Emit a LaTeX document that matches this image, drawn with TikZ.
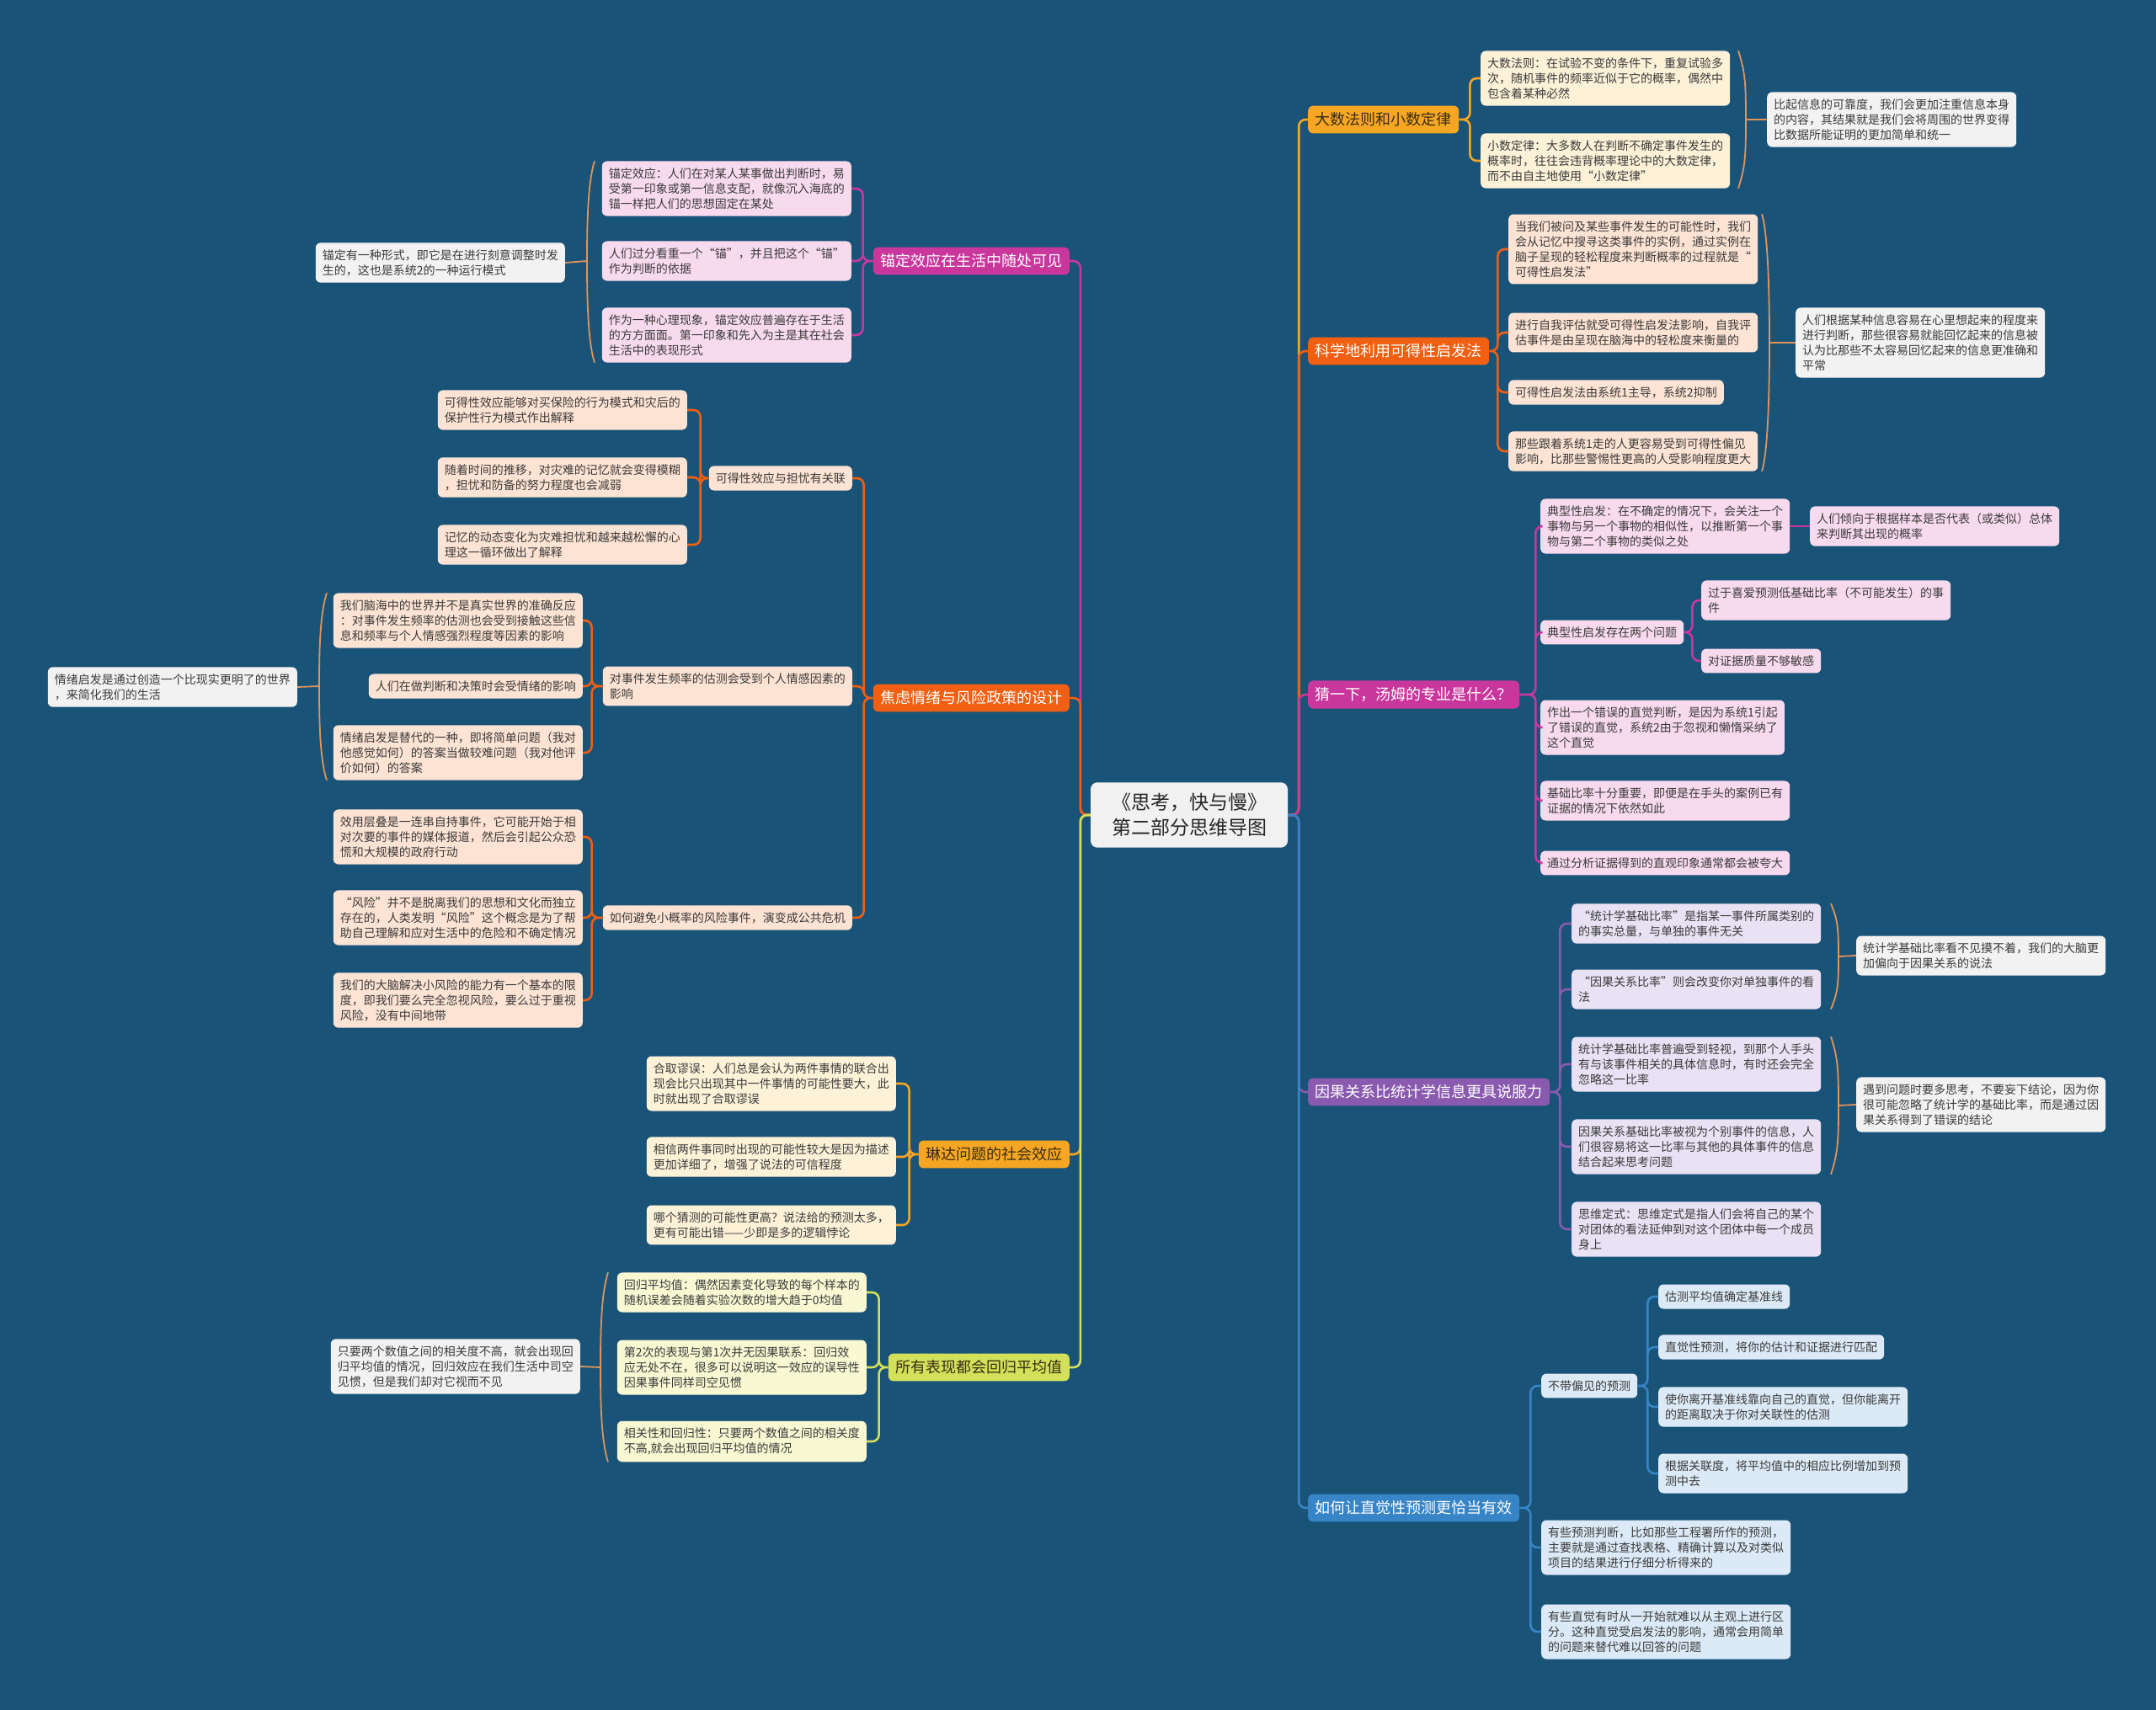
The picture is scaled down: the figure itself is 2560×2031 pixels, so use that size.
\documentclass[tikz,border=0pt]{standalone}
\usepackage{fontspec}
\setmainfont{Noto Sans CJK SC}
\usetikzlibrary{calc}
\definecolor{bgblue}{HTML}{1A5378}
\definecolor{rootgray}{HTML}{F1F1F1}
\definecolor{memogray}{HTML}{F2F2F2}
\definecolor{leaftext}{HTML}{3A3A3A}
\definecolor{darktxt}{HTML}{3A2E10}
\definecolor{cmag}{HTML}{C9379D}
\definecolor{corg}{HTML}{F05F12}
\definecolor{cgold}{HTML}{F6A623}
\definecolor{clime}{HTML}{D3E05A}
\definecolor{cpur}{HTML}{8A5AAF}
\definecolor{cblue}{HTML}{3784C7}
\definecolor{fpink}{HTML}{F8DAEE}
\definecolor{fpeach}{HTML}{FDE3D3}
\definecolor{fcream}{HTML}{FDF1D8}
\definecolor{fyell}{HTML}{F8F8D3}
\definecolor{flav}{HTML}{E8E2F4}
\definecolor{fsky}{HTML}{DCEAF7}
\definecolor{curlcol}{HTML}{E0945C}

\begin{document}
\begin{tikzpicture}[x=1pt, y=-1pt,
  rootbox/.style={fill=rootgray, rounded corners=8pt, align=center, inner xsep=25pt, inner ysep=13pt, font=\fontsize{23}{30}\selectfont, text=black!85},
  topic/.style={rounded corners=6pt, inner xsep=8.5pt, inner ysep=8pt, font=\fontsize{18}{22}\selectfont, text=white},
  leafbox/.style={rounded corners=6pt, align=left, inner xsep=8pt, inner ysep=8pt, font=\fontsize{14}{18}\selectfont, text=leaftext},
  memobox/.style={leafbox, fill=memogray},
  wire/.style={line width=2.6pt, rounded corners=8pt},
  curl/.style={draw=curlcol, line width=1.8pt}]
\fill[bgblue] (0,0) rectangle (2560,2031);
\useasboundingbox (0,0) rectangle (2560,2031);

\node[rootbox] (root) at (1412,968) {《思考，快与慢》\\第二部分思维导图};

\node[topic, fill=cmag, anchor=east] (b1) at (1270,310) {锚定效应在生活中随处可见};
\node[topic, fill=corg, anchor=east] (b2) at (1270,829) {焦虑情绪与风险政策的设计};
\node[topic, fill=cgold, text=darktxt, anchor=east] (b3) at (1270,1371) {琳达问题的社会效应};
\node[topic, fill=clime, text=darktxt, anchor=east] (b4) at (1270,1624) {所有表现都会回归平均值};
\node[topic, fill=cgold, text=darktxt, anchor=west] (b5) at (1553,142) {大数法则和小数定律};
\node[topic, fill=corg, anchor=west] (b6) at (1553,417) {科学地利用可得性启发法};
\node[topic, fill=cmag, anchor=west] (b7) at (1553,825) {猜一下，汤姆的专业是什么？};
\node[topic, fill=cpur, anchor=west] (b8) at (1553,1297) {因果关系比统计学信息更具说服力};
\node[topic, fill=cblue, anchor=west] (b9) at (1553,1791) {如何让直觉性预测更恰当有效};

\draw[wire, cmag] (root.west) -- ++(-12,0) |- (b1.east);
\draw[wire, corg] (root.west) -- ++(-12,0) |- (b2.east);
\draw[wire, cgold] (root.west) -- ++(-12,0) |- (b3.east);
\draw[wire, clime] (root.west) -- ++(-12,0) |- (b4.east);
\draw[wire, cgold] (root.east) -- ++(13,0) |- (b5.west);
\draw[wire, corg] (root.east) -- ++(13,0) |- (b6.west);
\draw[wire, cmag] (root.east) -- ++(13,0) |- (b7.west);
\draw[wire, cpur] (root.east) -- ++(13,0) |- (b8.west);
\draw[wire, cblue] (root.east) -- ++(13,0) |- (b9.west);

\node[leafbox, fill=fpink, anchor=east] (b1a) at (1011,224) {锚定效应：人们在对某人某事做出判断时，易\\受第一印象或第一信息支配，就像沉入海底的\\锚一样把人们的思想固定在某处};
\node[leafbox, fill=fpink, anchor=east] (b1b) at (1011,310) {人们过分看重一个“锚”，并且把这个“锚”\\作为判断的依据};
\node[leafbox, fill=fpink, anchor=east] (b1c) at (1011,398) {作为一种心理现象，锚定效应普遍存在于生活\\的方方面面。第一印象和先入为主是其在社会\\生活中的表现形式};
\node[memobox, anchor=east] (s1) at (671,312) {锚定有一种形式，即它是在进行刻意调整时发\\生的，这也是系统2的一种运行模式};
\coordinate (k1) at (697,310);
\draw[wire, cmag] (b1.west) -- ++(-12,0) |- (b1a.east) (b1.west) -- ++(-12,0) |- (b1b.east) (b1.west) -- ++(-12,0) |- (b1c.east);
\draw[curl] ($(k1 |- b1a.north)+(9,0)$) .. controls +(-8,25) and +(0,-45) .. (k1) .. controls +(0,45) and +(-8,-25) .. ($(k1 |- b1c.south)+(9,0)$);
\draw[curl] (k1) -- (s1.east);

\node[leafbox, fill=fpeach, anchor=east] (b2a) at (1012,568) {可得性效应与担忧有关联};
\node[leafbox, fill=fpeach, anchor=east] (b2b) at (1012,815) {对事件发生频率的估测会受到个人情感因素的\\影响};
\node[leafbox, fill=fpeach, anchor=east] (b2c) at (1012,1090) {如何避免小概率的风险事件，演变成公共危机};
\draw[wire, corg] (b2.west) -- ++(-11,0) |- (b2a.east) (b2.west) -- ++(-11,0) |- (b2b.east) (b2.west) -- ++(-11,0) |- (b2c.east);

\node[leafbox, fill=fpeach, anchor=east] (b2a1) at (816,487) {可得性效应能够对买保险的行为模式和灾后的\\保护性行为模式作出解释};
\node[leafbox, fill=fpeach, anchor=east] (b2a2) at (816,567) {随着时间的推移，对灾难的记忆就会变得模糊\\，担忧和防备的努力程度也会减弱};
\node[leafbox, fill=fpeach, anchor=east] (b2a3) at (816,647) {记忆的动态变化为灾难担忧和越来越松懈的心\\理这一循环做出了解释};
\draw[wire, corg] (b2a.west) -- ++(-10,0) |- (b2a1.east) (b2a.west) -- ++(-10,0) |- (b2a2.east) (b2a.west) -- ++(-10,0) |- (b2a3.east);

\node[leafbox, fill=fpeach, anchor=east] (b2b1) at (692,737) {我们脑海中的世界并不是真实世界的准确反应\\：对事件发生频率的估测也会受到接触这些信\\息和频率与个人情感强烈程度等因素的影响};
\node[leafbox, fill=fpeach, anchor=east] (b2b2) at (692,815) {人们在做判断和决策时会受情绪的影响};
\node[leafbox, fill=fpeach, anchor=east] (b2b3) at (692,894) {情绪启发是替代的一种，即将简单问题（我对\\他感觉如何）的答案当做较难问题（我对他评\\价如何）的答案};
\draw[wire, corg] (b2b.west) -- ++(-13,0) |- (b2b1.east) (b2b.west) -- ++(-13,0) |- (b2b2.east) (b2b.west) -- ++(-13,0) |- (b2b3.east);
\node[memobox, anchor=east] (s2) at (353,816) {情绪启发是通过创造一个比现实更明了的世界\\，来简化我们的生活};
\coordinate (k2) at (379,815);
\draw[curl] ($(k2 |- b2b1.north)+(9,0)$) .. controls +(-8,25) and +(0,-45) .. (k2) .. controls +(0,45) and +(-8,-25) .. ($(k2 |- b2b3.south)+(9,0)$);
\draw[curl] (k2) -- (s2.east);

\node[leafbox, fill=fpeach, anchor=east] (b2c1) at (692,994) {效用层叠是一连串自持事件，它可能开始于相\\对次要的事件的媒体报道，然后会引起公众恐\\慌和大规模的政府行动};
\node[leafbox, fill=fpeach, anchor=east] (b2c2) at (692,1090) {“风险”并不是脱离我们的思想和文化而独立\\存在的，人类发明“风险”这个概念是为了帮\\助自己理解和应对生活中的危险和不确定情况};
\node[leafbox, fill=fpeach, anchor=east] (b2c3) at (692,1188) {我们的大脑解决小风险的能力有一个基本的限\\度，即我们要么完全忽视风险，要么过于重视\\风险，没有中间地带};
\draw[wire, corg] (b2c.west) -- ++(-13,0) |- (b2c1.east) (b2c.west) -- ++(-13,0) |- (b2c2.east) (b2c.west) -- ++(-13,0) |- (b2c3.east);

\node[leafbox, fill=fcream, anchor=east] (b3a) at (1064,1287) {合取谬误：人们总是会认为两件事情的联合出\\现会比只出现其中一件事情的可能性要大，此\\时就出现了合取谬误};
\node[leafbox, fill=fcream, anchor=east] (b3b) at (1064,1374) {相信两件事同时出现的可能性较大是因为描述\\更加详细了，增强了说法的可信程度};
\node[leafbox, fill=fcream, anchor=east] (b3c) at (1064,1455) {哪个猜测的可能性更高？说法给的预测太多，\\更有可能出错——少即是多的逻辑悖论};
\draw[wire, cgold] (b3.west) -- ++(-11,0) |- (b3a.east) (b3.west) -- ++(-11,0) |- (b3b.east) (b3.west) -- ++(-11,0) |- (b3c.east);

\node[leafbox, fill=fyell, anchor=east] (b4a) at (1029,1535) {回归平均值：偶然因素变化导致的每个样本的\\随机误差会随着实验次数的增大趋于0均值};
\node[leafbox, fill=fyell, anchor=east] (b4b) at (1029,1624) {第2次的表现与第1次并无因果联系：回归效\\应无处不在，很多可以说明这一效应的误导性\\因果事件同样司空见惯};
\node[leafbox, fill=fyell, anchor=east] (b4c) at (1029,1712) {相关性和回归性：只要两个数值之间的相关度\\不高,就会出现回归平均值的情况};
\draw[wire, clime] (b4.west) -- ++(-11,0) |- (b4a.east) (b4.west) -- ++(-11,0) |- (b4b.east) (b4.west) -- ++(-11,0) |- (b4c.east);
\node[memobox, anchor=east] (s4) at (689,1623) {只要两个数值之间的相关度不高，就会出现回\\归平均值的情况，回归效应在我们生活中司空\\见惯，但是我们却对它视而不见};
\coordinate (k4) at (713,1624);
\draw[curl] ($(k4 |- b4a.north)+(9,0)$) .. controls +(-8,25) and +(0,-45) .. (k4) .. controls +(0,45) and +(-8,-25) .. ($(k4 |- b4c.south)+(9,0)$);
\draw[curl] (k4) -- (s4.east);

\node[leafbox, fill=fcream, anchor=west] (b5a) at (1758,93) {大数法则：在试验不变的条件下，重复试验多\\次，随机事件的频率近似于它的概率，偶然中\\包含着某种必然};
\node[leafbox, fill=fcream, anchor=west] (b5b) at (1758,191) {小数定律：大多数人在判断不确定事件发生的\\概率时，往往会违背概率理论中的大数定律，\\而不由自主地使用“小数定律”};
\draw[wire, cgold] (b5.east) -- ++(13,0) |- (b5a.west) (b5.east) -- ++(13,0) |- (b5b.west);
\node[memobox, anchor=west] (s5) at (2098,142) {比起信息的可靠度，我们会更加注重信息本身\\的内容，其结果就是我们会将周围的世界变得\\比数据所能证明的更加简单和统一};
\coordinate (k5) at (2073,142);
\draw[curl] ($(k5 |- b5a.north)+(-9,0)$) .. controls +(8,25) and +(0,-45) .. (k5) .. controls +(0,45) and +(8,-25) .. ($(k5 |- b5b.south)+(-9,0)$);
\draw[curl] (k5) -- (s5.west);

\node[leafbox, fill=fpeach, anchor=west] (b6a) at (1791,296) {当我们被问及某些事件发生的可能性时，我们\\会从记忆中搜寻这类事件的实例，通过实例在\\脑子呈现的轻松程度来判断概率的过程就是“\\可得性启发法”};
\node[leafbox, fill=fpeach, anchor=west] (b6b) at (1791,395) {进行自我评估就受可得性启发法影响，自我评\\估事件是由呈现在脑海中的轻松度来衡量的};
\node[leafbox, fill=fpeach, anchor=west] (b6c) at (1791,466) {可得性启发法由系统1主导，系统2抑制};
\node[leafbox, fill=fpeach, anchor=west] (b6d) at (1791,536) {那些跟着系统1走的人更容易受到可得性偏见\\影响，比那些警惕性更高的人受影响程度更大};
\draw[wire, corg] (b6.east) -- ++(10,0) |- (b6a.west) (b6.east) -- ++(10,0) |- (b6b.west) (b6.east) -- ++(10,0) |- (b6c.west) (b6.east) -- ++(10,0) |- (b6d.west);
\node[memobox, anchor=west] (s6) at (2132,407) {人们根据某种信息容易在心里想起来的程度来\\进行判断，那些很容易就能回忆起来的信息被\\认为比那些不太容易回忆起来的信息更准确和\\平常};
\coordinate (k6) at (2101,407);
\draw[curl] ($(k6 |- b6a.north)+(-9,0)$) .. controls +(8,25) and +(0,-45) .. (k6) .. controls +(0,45) and +(8,-25) .. ($(k6 |- b6d.south)+(-9,0)$);
\draw[curl] (k6) -- (s6.west);

\node[leafbox, fill=fpink, anchor=west] (b7a) at (1829,625) {典型性启发：在不确定的情况下，会关注一个\\事物与另一个事物的相似性，以推断第一个事\\物与第二个事物的类似之处};
\node[leafbox, fill=fpink, anchor=west] (b7b) at (1829,751) {典型性启发存在两个问题};
\node[leafbox, fill=fpink, anchor=west] (b7c) at (1829,864) {作出一个错误的直觉判断，是因为系统1引起\\了错误的直觉，系统2由于忽视和懒惰采纳了\\这个直觉};
\node[leafbox, fill=fpink, anchor=west] (b7d) at (1829,951) {基础比率十分重要，即便是在手头的案例已有\\证据的情况下依然如此};
\node[leafbox, fill=fpink, anchor=west] (b7e) at (1829,1025) {通过分析证据得到的直观印象通常都会被夸大};
\draw[wire, cmag] (b7.east) -- ++(19,0) |- (b7a.west) (b7.east) -- ++(19,0) |- (b7b.west) (b7.east) -- ++(19,0) |- (b7c.west) (b7.east) -- ++(19,0) |- (b7d.west) (b7.east) -- ++(19,0) |- (b7e.west);
\node[leafbox, fill=fpink, anchor=west] (b7a1) at (2149,625) {人们倾向于根据样本是否代表（或类似）总体\\来判断其出现的概率};
\draw[wire, cmag] (b7a.east) -- (b7a1.west);
\node[leafbox, fill=fpink, anchor=west] (b7b1) at (2020,713) {过于喜爱预测低基础比率（不可能发生）的事\\件};
\node[leafbox, fill=fpink, anchor=west] (b7b2) at (2020,785) {对证据质量不够敏感};
\draw[wire, cmag] (b7b.east) -- ++(10,0) |- (b7b1.west) (b7b.east) -- ++(10,0) |- (b7b2.west);

\node[leafbox, fill=flav, anchor=west] (b8a) at (1866,1097) {“统计学基础比率”是指某一事件所属类别的\\的事实总量，与单独的事件无关};
\node[leafbox, fill=flav, anchor=west] (b8b) at (1866,1175) {“因果关系比率”则会改变你对单独事件的看\\法};
\node[leafbox, fill=flav, anchor=west] (b8c) at (1866,1264) {统计学基础比率普遍受到轻视，到那个人手头\\有与该事件相关的具体信息时，有时还会完全\\忽略这一比率};
\node[leafbox, fill=flav, anchor=west] (b8d) at (1866,1362) {因果关系基础比率被视为个别事件的信息，人\\们很容易将这一比率与其他的具体事件的信息\\结合起来思考问题};
\node[leafbox, fill=flav, anchor=west] (b8e) at (1866,1460) {思维定式：思维定式是指人们会将自己的某个\\对团体的看法延伸到对这个团体中每一个成员\\身上};
\draw[wire, cpur] (b8.east) -- ++(12,0) |- (b8a.west) (b8.east) -- ++(12,0) |- (b8b.west) (b8.east) -- ++(12,0) |- (b8c.west) (b8.east) -- ++(12,0) |- (b8d.west) (b8.east) -- ++(12,0) |- (b8e.west);
\node[memobox, anchor=west] (s8a) at (2204,1135) {统计学基础比率看不见摸不着，我们的大脑更\\加偏向于因果关系的说法};
\coordinate (k8a) at (2183,1136);
\draw[curl] ($(k8a |- b8a.north)+(-9,0)$) .. controls +(8,20) and +(0,-35) .. (k8a) .. controls +(0,35) and +(8,-20) .. ($(k8a |- b8b.south)+(-9,0)$);
\draw[curl] (k8a) -- (s8a.west);
\node[memobox, anchor=west] (s8b) at (2204,1312) {遇到问题时要多思考，不要妄下结论，因为你\\很可能忽略了统计学的基础比率，而是通过因\\果关系得到了错误的结论};
\coordinate (k8b) at (2183,1313);
\draw[curl] ($(k8b |- b8c.north)+(-9,0)$) .. controls +(8,25) and +(0,-45) .. (k8b) .. controls +(0,45) and +(8,-25) .. ($(k8b |- b8d.south)+(-9,0)$);
\draw[curl] (k8b) -- (s8b.west);

\node[leafbox, fill=fsky, anchor=west] (b9a) at (1830,1646) {不带偏见的预测};
\node[leafbox, fill=fsky, anchor=west] (b9b) at (1830,1838) {有些预测判断，比如那些工程署所作的预测，\\主要就是通过查找表格、精确计算以及对类似\\项目的结果进行仔细分析得来的};
\node[leafbox, fill=fsky, anchor=west] (b9c) at (1830,1938) {有些直觉有时从一开始就难以从主观上进行区\\分。这种直觉受启发法的影响，通常会用简单\\的问题来替代难以回答的问题};
\draw[wire, cblue] (b9.east) -- ++(13,0) |- (b9a.west) (b9.east) -- ++(13,0) |- (b9b.west) (b9.east) -- ++(13,0) |- (b9c.west);
\node[leafbox, fill=fsky, anchor=west] (b9a1) at (1969,1540) {估测平均值确定基准线};
\node[leafbox, fill=fsky, anchor=west] (b9a2) at (1969,1600) {直觉性预测，将你的估计和证据进行匹配};
\node[leafbox, fill=fsky, anchor=west] (b9a3) at (1969,1671) {使你离开基准线靠向自己的直觉，但你能离开\\的距离取决于你对关联性的估测};
\node[leafbox, fill=fsky, anchor=west] (b9a4) at (1969,1750) {根据关联度，将平均值中的相应比例增加到预\\测中去};
\draw[wire, cblue] (b9a.east) -- ++(12,0) |- (b9a1.west) (b9a.east) -- ++(12,0) |- (b9a2.west) (b9a.east) -- ++(12,0) |- (b9a3.west) (b9a.east) -- ++(12,0) |- (b9a4.west);
\end{tikzpicture}
\end{document}
